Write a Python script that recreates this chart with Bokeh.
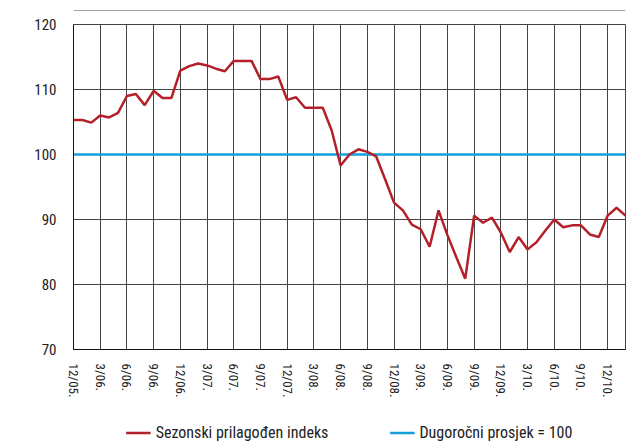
from bokeh.plotting import figure
from bokeh.models import Range1d, FixedTicker, Legend, LegendItem, Span
from bokeh.layouts import column
from bokeh.embed import file_html
from bokeh.resources import INLINE

# monthly index values 12/05 .. 2/11
index_values = [
    105.3, 105.3, 104.9, 106.0, 105.7, 106.4, 109.0, 109.3, 107.6, 109.8, 108.7, 108.7,
    112.9, 113.6, 114.0, 113.7, 113.2, 112.8, 114.4, 114.4, 114.4, 111.6, 111.6, 112.0,
    108.4, 108.8, 107.2, 107.2, 107.2, 103.7, 98.3, 100.0, 100.8, 100.4, 99.7, 96.2,
    92.6, 91.4, 89.2, 88.5, 85.8, 91.4, 87.6, 84.2, 80.9, 90.6, 89.5, 90.3,
    88.0, 85.0, 87.3, 85.4, 86.5, 88.3, 90.0, 88.8, 89.1, 89.1, 87.7, 87.3,
    90.6, 91.8, 90.6,
]
long_term_avg = 100
tick_labels = ["12/05.", "3/06.", "6/06.", "9/06.", "12/06.", "3/07.", "6/07.", "9/07.",
               "12/07.", "3/08.", "6/08.", "9/08.", "12/08.", "3/09.", "6/09.", "9/09.",
               "12/09.", "3/10.", "6/10.", "9/10.", "12/10."]
y_ticks = [70, 80, 90, 100, 110, 120]
series_names = ["Sezonski prilagođen indeks", "Dugoročni prosjek = 100"]

FONT = "'Liberation Sans Narrow', 'Roboto Condensed', 'Liberation Sans', sans-serif"
RED = "#B3202A"
BLUE = "#13A0DA"

months = list(range(len(index_values)))
tick_pos = [3 * i for i in range(len(tick_labels))]
x_end = len(index_values) - 1

# --- thin rule at the top of the page ---
rule = figure(width=631, height=11, output_backend="svg", toolbar_location=None,
              x_axis_location=None, y_axis_location=None,
              x_range=Range1d(0, 1), y_range=Range1d(0, 1),
              min_border_left=13, min_border_right=5, min_border_top=9, min_border_bottom=0)
rule.grid.visible = False
rule.outline_line_color = None
rule.background_fill_color = "white"
rule.border_fill_color = "white"
rule.add_layout(Span(location=1, dimension="width", line_color="#4a4a4a", line_width=1.5))

# --- main chart ---
p = figure(width=631, height=389, output_backend="svg", toolbar_location=None,
           x_range=Range1d(0, x_end), y_range=Range1d(70, 120),
           min_border_left=73, min_border_right=6, min_border_top=13, min_border_bottom=50)
p.background_fill_color = "white"
p.border_fill_color = "white"
p.outline_line_color = "#444444"

p.line([0, x_end], [long_term_avg, long_term_avg], line_color=BLUE, line_width=2.5)
p.line(months, index_values, line_color=RED, line_width=2.5)

p.xaxis.ticker = FixedTicker(ticks=tick_pos)
p.xaxis.major_label_overrides = {pos: lab for pos, lab in zip(tick_pos, tick_labels)}
p.xaxis.major_label_orientation = "vertical"
p.yaxis.ticker = FixedTicker(ticks=y_ticks)

for ax in (p.xaxis, p.yaxis):
    ax.major_tick_line_color = None
    ax.minor_tick_line_color = None
    ax.axis_line_color = "#111111"
    ax.major_label_text_font = FONT
    ax.major_label_text_color = "#222222"
p.xaxis.major_label_text_font_size = "13px"
p.yaxis.major_label_text_font_size = "15px"
p.xaxis.major_label_standoff = 8
p.yaxis.major_label_standoff = 11

p.xgrid.ticker = FixedTicker(ticks=tick_pos)
p.ygrid.ticker = FixedTicker(ticks=y_ticks)
p.xgrid.grid_line_color = "#444444"
p.ygrid.grid_line_color = "#444444"

# --- legend strip ---
leg = figure(width=631, height=43, output_backend="svg", toolbar_location=None,
             x_axis_location=None, y_axis_location=None,
             x_range=Range1d(0, x_end), y_range=Range1d(0, 1),
             min_border_left=73, min_border_right=6, min_border_top=22, min_border_bottom=1)
leg.grid.visible = False
leg.outline_line_color = None
# same series, drawn outside this strip's range so that only their legend entries show
l_idx = leg.line(months, index_values, line_color=RED, line_width=2.5)
l_avg = leg.line([0, x_end], [long_term_avg, long_term_avg], line_color=BLUE, line_width=2.5)

legend = Legend(items=[LegendItem(label=series_names[0], renderers=[l_idx]),
                       LegendItem(label=series_names[1], renderers=[l_avg])],
                orientation="horizontal", location="center",
                padding=0, margin=0, spacing=61, label_standoff=5,
                glyph_width=25, glyph_height=18,
                label_text_font=FONT, label_text_font_size="16px",
                label_text_color="#222222",
                background_fill_alpha=0, border_line_color=None)
leg.add_layout(legend, "center")

layout = column(rule, p, leg, spacing=0)
open("out.html", "w").write(file_html(layout, INLINE))
